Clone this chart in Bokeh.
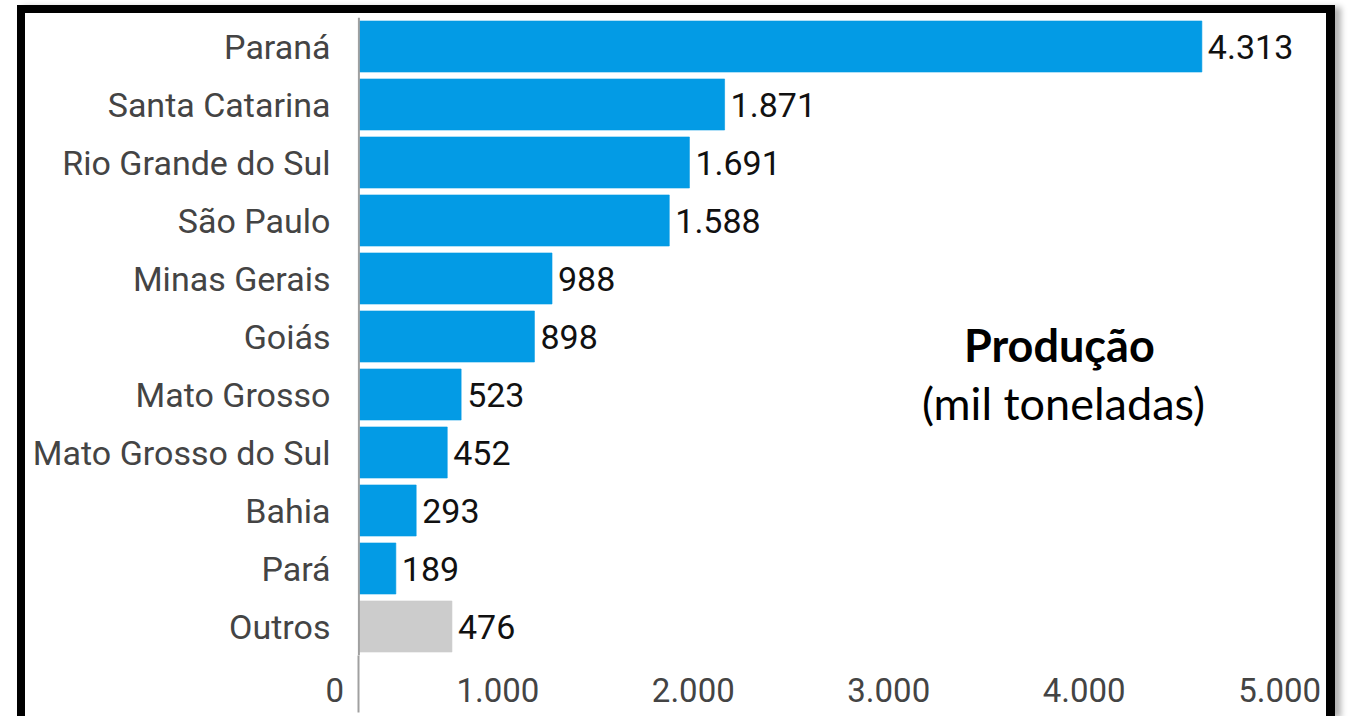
from bokeh.plotting import figure
from bokeh.models import FactorRange, Range1d, FixedTicker, Span, Label, ColumnDataSource
from bokeh.core.properties import value
from bokeh.embed import file_html
from bokeh.resources import INLINE

# ---- data ----
states = ["Paraná", "Santa Catarina", "Rio Grande do Sul", "São Paulo", "Minas Gerais",
          "Goiás", "Mato Grosso", "Mato Grosso do Sul", "Bahia", "Pará", "Outros"]
production = [4313, 1871, 1691, 1588, 988, 898, 523, 452, 293, 189, 476]
bar_colors = ["#039BE5"] * 10 + ["#CCCCCC"]
tick_values = [0, 1000, 2000, 3000, 4000, 5000]
tick_labels = ["0", "1.000", "2.000", "3.000", "4.000", "5.000"]
title_text = "Produção"
subtitle_text = "(mil toneladas)"

# ---- layout constants ----
CANVAS_W, CANVAS_H = 1301, 703
X_START, X_END = -130, 4920
FRAME_W, FRAME_H = 987, 638
FRAME_LEFT, FRAME_TOP = 308, 4
PX_PER_UNIT = FRAME_W / (X_END - X_START)
FONT_PX = 33


def fmt(v):
    return f"{v:,}".replace(",", ".")


def est_width(s):
    return sum(0.562 if c.isdigit() else 0.263 for c in s) * FONT_PX


# tick labels are right-aligned ~15px left of their tick: shift the label anchors
label_pos = [int(round(v - (15 + est_width(l) / 2) / PX_PER_UNIT)) for v, l in zip(tick_values, tick_labels)]

src = ColumnDataSource(dict(state=states, prod=production, color=bar_colors,
                            label=[fmt(v) for v in production]))

p = figure(
    x_range=Range1d(X_START, X_END),
    y_range=FactorRange(factors=list(reversed(states)), range_padding=0, factor_padding=0),
    frame_width=FRAME_W, frame_height=FRAME_H,
    min_border_left=FRAME_LEFT, min_border_right=CANVAS_W - FRAME_LEFT - FRAME_W,
    min_border_top=FRAME_TOP, min_border_bottom=CANVAS_H - FRAME_TOP - FRAME_H,
    output_backend="svg", toolbar_location=None,
    background_fill_color="white", border_fill_color="white", outline_line_color=None,
)

p.hbar(y="state", left=0, right="prod", height=0.88, fill_color="color", line_color="color",
       line_alpha=0.6, source=src)
p.text(x="prod", y="state", text="label", x_offset=6, text_baseline="middle",
       text_font=value("Roboto"), text_font_size="34px", text_color="#111111", source=src)

p.add_layout(Span(location=0, dimension="height", line_color="#a0a0a0", line_width=2))

p.xgrid.visible = False
p.ygrid.visible = False

xa = p.xaxis[0]
xa.ticker = FixedTicker(ticks=label_pos, minor_ticks=[0])
xa.major_label_overrides = {pos: lab for pos, lab in zip(label_pos, tick_labels)}
xa.axis_line_color = None
xa.major_tick_line_color = None
xa.major_tick_out = 0
xa.major_tick_in = 0
xa.minor_tick_line_color = "#a0a0a0"
xa.minor_tick_line_width = 2
xa.minor_tick_out = 57
xa.minor_tick_in = 0
xa.major_label_standoff = -35
xa.major_label_text_font = "Roboto"
xa.major_label_text_font_size = f"{FONT_PX}px"
xa.major_label_text_color = "#444444"

ya = p.yaxis[0]
ya.axis_line_color = None
ya.major_tick_line_color = None
ya.major_tick_out = 0
ya.major_tick_in = 0
ya.major_label_standoff = 3
ya.major_label_text_font = "Roboto"
ya.major_label_text_font_size = "34px"
ya.major_label_text_color = "#444444"

p.add_layout(Label(x=3584, y=4.88, text=title_text, text_align="center",
                   text_font="Lato", text_font_style="bold", text_font_size="45px",
                   text_color="black"))
p.add_layout(Label(x=3605, y=3.88, text=subtitle_text, text_align="center",
                   text_font="Lato", text_font_size="45px", text_color="black"))

# the card: thick black frame (open at the bottom) with a soft shadow
p.styles = {
    "margin-left": "17px",
    "margin-top": "5px",
    "border-top": "8px solid black",
    "border-left": "8px solid black",
    "border-right": "9px solid black",
    "box-shadow": "6px 2px 6px rgba(0,0,0,0.3)",
}

html = file_html(p, INLINE)
html = html.replace("<body>", '<body style="background:#f2f2f2">', 1)
open("out.html", "w").write(html)
